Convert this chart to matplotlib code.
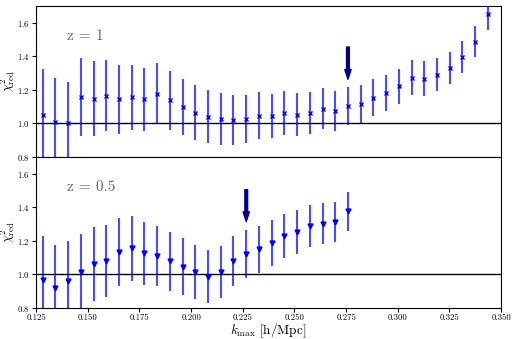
import matplotlib
matplotlib.use('Agg')
import matplotlib.pyplot as plt

plt.rcParams['font.family'] = 'serif'
plt.rcParams['font.serif'] = ['cmr10', 'DejaVu Serif']
plt.rcParams['mathtext.fontset'] = 'cm'
plt.rcParams['axes.formatter.use_mathtext'] = True

# k_max grid (h/Mpc)
k_max = [0.1282, 0.1344, 0.1405, 0.1467, 0.1528, 0.1590, 0.1651, 0.1713,
         0.1774, 0.1836, 0.1897, 0.1959, 0.2020, 0.2082, 0.2144, 0.2205,
         0.2267, 0.2328, 0.2390, 0.2451, 0.2513, 0.2574, 0.2636, 0.2697,
         0.2759, 0.2821, 0.2882, 0.2944, 0.3005, 0.3067, 0.3128, 0.3190,
         0.3251, 0.3313, 0.3374, 0.3436]

# z = 1
chi2_z1 = [1.052, 1.010, 1.000, 1.154, 1.146, 1.164, 1.142, 1.154, 1.142,
           1.176, 1.136, 1.096, 1.062, 1.040, 1.026, 1.018, 1.026, 1.044,
           1.044, 1.062, 1.052, 1.060, 1.086, 1.072, 1.102, 1.114, 1.152,
           1.180, 1.220, 1.272, 1.266, 1.290, 1.328, 1.396, 1.486, 1.648]
err_z1 = [0.272, 0.258, 0.248, 0.233, 0.222, 0.213, 0.204, 0.195, 0.188,
          0.180, 0.174, 0.167, 0.163, 0.158, 0.153, 0.150, 0.144, 0.140,
          0.133, 0.133, 0.127, 0.124, 0.121, 0.120, 0.115, 0.113, 0.111,
          0.108, 0.105, 0.104, 0.102, 0.098, 0.096, 0.095, 0.093, 0.092]

# z = 0.5
chi2_z05 = [0.964, 0.918, 0.958, 1.014, 1.060, 1.078, 1.134, 1.154, 1.124,
            1.110, 1.076, 1.046, 1.014, 0.984, 1.014, 1.080, 1.120, 1.148,
            1.188, 1.228, 1.252, 1.286, 1.302, 1.310, 1.376]
err_z05 = [0.264, 0.254, 0.240, 0.228, 0.222, 0.214, 0.204, 0.196, 0.187,
           0.180, 0.175, 0.168, 0.162, 0.158, 0.153, 0.148, 0.144, 0.140,
           0.136, 0.133, 0.129, 0.125, 0.124, 0.119, 0.116]

# arrows marking the chosen k_max
arrow_k = [0.2759, 0.2267]
arrow_top = [1.454, 1.504]
arrow_tip = [1.262, 1.314]

labels = ['z = 1', 'z = 0.5']

fig, axes = plt.subplots(2, 1, figsize=(5.15, 3.39), dpi=100, sharex=True)
fig.subplots_adjust(left=0.07, right=0.973, top=0.983, bottom=0.092, hspace=0)

series = [(chi2_z1, err_z1, 'x', 3.5), (chi2_z05, err_z05, 'v', 3.5)]

for i, ax in enumerate(axes):
    vals, errs, mk, ms = series[i]
    ks = k_max[:len(vals)]
    ax.errorbar(ks, vals, yerr=errs, fmt=mk, color='blue', ms=ms, mew=1.0,
                ecolor=(0, 0, 1, 0.7), elinewidth=1.5, capsize=0)
    ax.axhline(1.0, color='black', linewidth=1.0, zorder=1)
    ax.annotate('', xy=(arrow_k[i], arrow_tip[i]), xytext=(arrow_k[i], arrow_top[i]),
                arrowprops=dict(facecolor='darkblue', edgecolor='darkblue',
                                width=2, headwidth=4.5, headlength=7))
    ax.text(0.14, 1.52, labels[i], fontsize=11, color='0.4', va='center')
    ax.set_ylim(0.8, 1.7)
    ax.set_yticks([0.8, 1.0, 1.2, 1.4, 1.6])
    ax.set_ylabel(r'$\chi^2_{\rm red}$', fontsize=9)
    ax.yaxis.set_label_coords(-0.04, 0.5)
    ax.tick_params(labelsize=6.3, length=3, width=0.8, pad=1.5)

axes[0].tick_params(axis='x', bottom=False)
axes[1].set_xlim(0.125, 0.35)
axes[1].set_xticks([0.125, 0.150, 0.175, 0.200, 0.225, 0.250, 0.275, 0.300, 0.325, 0.350])
axes[1].set_xticklabels(['0.125', '0.150', '0.175', '0.200', '0.225', '0.250',
                         '0.275', '0.300', '0.325', '0.350'])
axes[1].set_xlabel(r'$k_{\rm max}$ [h/Mpc]', fontsize=9.5, labelpad=-1)

fig.savefig('out.png', dpi=100)
